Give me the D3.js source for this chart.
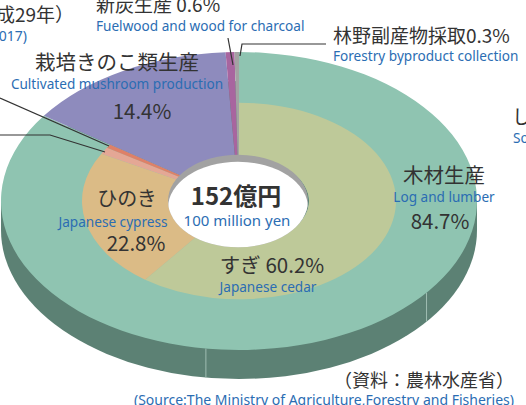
<!DOCTYPE html>
<html>
<head>
<meta charset="utf-8">
<script src="https://cdn.jsdelivr.net/npm/d3@7"></script>
<style>
  body { margin: 0; background: #fff; }
  svg { display: block; }
  .jp { font-family: "Noto Sans CJK JP", "Noto Sans", sans-serif; fill: #333; }
  .en { font-family: "Noto Sans", "DejaVu Sans", sans-serif; fill: #2b6db3; }
</style>
</head>
<body>
<svg id="chart" width="526" height="405"></svg>
<script>
// Data
var outerCats = ["木材生産", "栽培きのこ類生産", "新炭生産", "林野副産物採取"];
var outerValues = [84.7, 14.4, 0.6, 0.3];
var innerCats = ["すぎ", "ひのき", "その他a", "その他b"];
var innerValues = [60.2, 22.8, 1.1, 0.6];
var total = "152億円";

// Colors
var outerColors = ["#8fc4b1", "#8e8bbd", "#a8659f", "#a3a3a3"];
var innerColors = ["#bec999", "#dbbb86", "#e4a795", "#de8068"];
var sideColor = "#5c8174";

var svg = d3.select("#chart");
var cx = 239, cy = 201;
var rOuter = 238, rInner = 157, rHole = 70;
var tilt = 0.626; // y squash of the tilted disc
var depth = 29;

// radius scale (fraction of outer radius -> px)
var rScale = d3.scaleLinear().domain([0, 1]).range([0, rOuter]);

////////////////////////////////////////////////////////////////
// side wall
var side = svg.append("g");
side.append("ellipse")
    .attr("cx", cx).attr("cy", cy + depth)
    .attr("rx", rScale(1)).attr("ry", rScale(1) * tilt)
    .style("fill", sideColor);
side.append("rect")
    .attr("x", cx - rScale(1)).attr("y", cy)
    .attr("width", rScale(1) * 2).attr("height", depth)
    .style("fill", sideColor);
// faint seams on the wall
[128, 188].forEach(function(a) {
  var t = a * Math.PI / 180;
  var x = cx + rScale(1) * Math.sin(t), y = cy - rScale(1) * tilt * Math.cos(t);
  side.append("line")
      .attr("x1", x).attr("y1", y).attr("x2", x).attr("y2", y + depth)
      .style("stroke", "#9fbdb2").style("stroke-width", 1);
});

////////////////////////////////////////////////////////////////
// top face
var face = svg.append("g")
    .attr("transform", "translate(" + cx + "," + cy + ") scale(1," + tilt + ")");

var pieOuter = d3.pie().sort(null).value(function(d) { return d; });
var arcOuter = d3.arc().innerRadius(rHole).outerRadius(rScale(1));
face.selectAll(".outer")
    .data(pieOuter(outerValues))
    .enter()
    .append("path")
    .attr("class", "outer")
    .attr("d", arcOuter)
    .style("fill", function(d, i) { return outerColors[i]; });

var innerSum = d3.sum(innerValues);
var pieInner = d3.pie().sort(null)
    .startAngle(0)
    .endAngle(2 * Math.PI * innerSum / d3.sum(outerValues))
    .value(function(d) { return d; });
var arcInner = d3.arc().innerRadius(rHole).outerRadius(rInner);
face.selectAll(".inner")
    .data(pieInner(innerValues))
    .enter()
    .append("path")
    .attr("class", "inner")
    .attr("d", arcInner)
    .style("fill", function(d, i) { return innerColors[i]; });

// hole
var holeRy = rHole * 0.66;
svg.append("clipPath").attr("id", "holeClip")
   .append("ellipse")
   .attr("cx", cx - 1).attr("cy", cy).attr("rx", rHole).attr("ry", holeRy);
svg.append("ellipse")
   .attr("cx", cx - 1).attr("cy", cy).attr("rx", rHole).attr("ry", holeRy)
   .style("fill", "#a2a2a2");
svg.append("ellipse")
   .attr("clip-path", "url(#holeClip)")
   .attr("cx", cx - 1).attr("cy", cy + 7).attr("rx", rHole).attr("ry", holeRy)
   .style("fill", "#fff");

////////////////////////////////////////////////////////////////
// leader lines
var lines = [
  [[228, 38], [233, 65]],
  [[240, 56], [242, 44], [326, 44]],
  [[0, 98], [109, 146]],
  [[0, 135], [50, 135], [105, 152]]
];
svg.selectAll(".leader")
   .data(lines)
   .enter()
   .append("path")
   .attr("class", "leader")
   .attr("d", d3.line())
   .style("fill", "none")
   .style("stroke", "#333")
   .style("stroke-width", 1.2);

////////////////////////////////////////////////////////////////
// labels
function txt(cls, s, x, y, size, anchor, weight) {
  return svg.append("text")
     .attr("class", cls)
     .attr("x", x).attr("y", y)
     .attr("text-anchor", anchor || "middle")
     .style("font-size", size + "px")
     .style("font-weight", weight || 400)
     .text(s);
}

txt("jp", "（平成29年）", 74, 22, 19, "end");
txt("en", "(2017)", 27, 41, 14, "end");

txt("jp", "新炭生産 0.6%", 96, 12, 19, "start");
txt("en", "Fuelwood and wood for charcoal", 96, 31, 13.6, "start");

txt("jp", "林野副産物採取0.3%", 333, 43, 19, "start");
txt("en", "Forestry byproduct collection", 333, 61, 13.6, "start");

txt("jp", "し", 512, 124, 19, "start");
txt("en", "So", 513, 143, 13.6, "start");

txt("jp", outerCats[1], 117, 70, 20.5);
txt("en", "Cultivated mushroom production", 117, 89, 13.6);
txt("jp", outerValues[1].toFixed(1) + "%", 142, 119, 20.5);

txt("jp", outerCats[0], 444, 183, 20.5);
txt("en", "Log and lumber", 444, 202, 13.6);
txt("jp", outerValues[0].toFixed(1) + "%", 440, 229, 20.5);

txt("jp", innerCats[1], 127, 206, 20);
txt("en", "Japanese cypress", 113, 227, 13.6);
txt("jp", innerValues[1].toFixed(1) + "%", 136, 251, 20.5);

txt("jp", innerCats[0] + " " + innerValues[0].toFixed(1) + "%", 272, 273, 20.5);
txt("en", "Japanese cedar", 268, 292, 13.6);

txt("jp", total, 236, 205, 24, "middle", 700);
txt("en", "100 million yen", 237, 226, 15);

txt("jp", "（資料：農林水産省）", 514, 387, 18, "end");
txt("en", "(Source:The Ministry of Agriculture,Forestry and Fisheries)", 514, 405, 14, "end");
</script>
</body>
</html>
